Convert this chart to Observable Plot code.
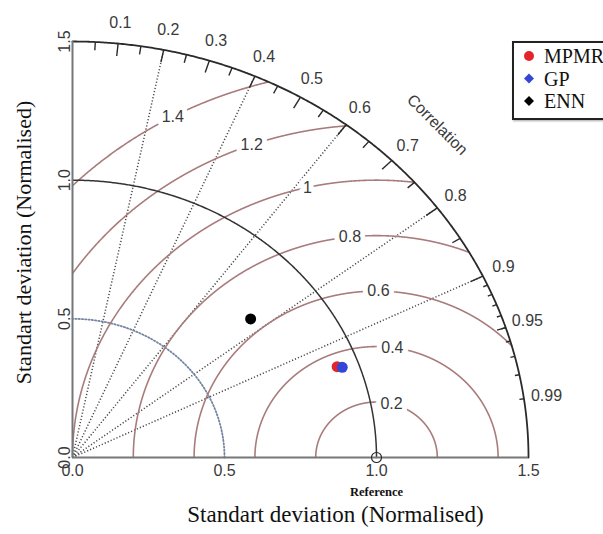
<!DOCTYPE html>
<html>
<head>
<meta charset="utf-8">
<script src="https://cdn.jsdelivr.net/npm/d3@7"></script>
<script src="https://cdn.jsdelivr.net/npm/@observablehq/plot@0.6"></script>
<style>
  html, body { margin: 0; padding: 0; background: #fff; overflow: hidden; }
  #wrap { position: relative; width: 603px; height: 534px; }
  #legend {
    position: absolute; left: 512px; top: 41px; width: 120px; height: 79px;
    box-sizing: border-box; border: 2px solid #222; background: #fff;
    box-shadow: 1px 1px 2px rgba(0,0,0,0.35);
  }
</style>
</head>
<body>
<div id="wrap"><div id="legend"></div></div>
<script>
// Model skill: normalised standard deviation and correlation with observations
const models = ["MPMR", "GP", "ENN"];
const stdDev = [0.930, 0.945, 0.770];
const correlation = [0.936, 0.939, 0.761];
const colors = ["#e3242b", "#3347d6", "#000000"];
const legendSymbols = ["circle", "diamond", "diamond"];

// Diagram furniture
const maxSd = 1.5;
const refSd = 1.0;
const sdTicks = [0, 0.5, 1.0, 1.5];
const sdDottedArcs = [0.5];
const rmsLevels = [0.2, 0.4, 0.6, 0.8, 1, 1.2, 1.4];
const corrLines = [0.2, 0.4, 0.6, 0.8, 0.9];
const corrLabels = [0.1, 0.2, 0.3, 0.4, 0.5, 0.6, 0.7, 0.8, 0.9, 0.95, 0.99];
const corrBigTicks = [0.1, 0.2, 0.3, 0.4, 0.5, 0.6, 0.7, 0.8, 0.9];
const corrMedTicks = [0.05, 0.15, 0.25, 0.35, 0.45, 0.55, 0.65, 0.75, 0.85, 0.95];
const corrSmallTicks = [0.91, 0.92, 0.93, 0.94, 0.95, 0.96, 0.97, 0.98, 0.99];

// polar helpers: radius r along the direction whose cosine is the correlation c
const px = (r, c) => r * c;
const py = (r, c) => r * Math.sqrt(Math.max(0, 1 - c * c));

function quarterArc(r, n = 400) {
  return d3.range(n + 1).map(k => {
    const t = (k / n) * Math.PI / 2;
    return {r, x: r * Math.cos(t), y: r * Math.sin(t)};
  });
}

// centred-RMS difference curves around the reference point, clipped to the quadrant
const rmsCurves = rmsLevels.flatMap(g =>
  d3.range(3001).map(k => {
    const t = (k / 3000) * Math.PI;
    return {g, x: refSd + g * Math.cos(t), y: g * Math.sin(t)};
  }).filter(p => p.x >= 0 && p.x * p.x + p.y * p.y <= maxSd * maxSd)
);
// label position on each curve: evenly spread sample indices along the half circle
const rmsLabels = rmsLevels.map((g, i) => {
  const idx = Math.trunc(45 + i * 25 / (rmsLevels.length - 1));
  const t = (idx - 1) * 0.03;
  return {g, x: refSd + g * Math.cos(t), y: g * Math.sin(t)};
});

const tickSegs = (vals, inner) => vals.map(c => ({
  x1: px(maxSd, c), y1: py(maxSd, c), x2: px(maxSd * inner, c), y2: py(maxSd * inner, c)
}));

const points = models.map((m, i) => ({
  model: m, sd: stdDev[i], corr: correlation[i], color: colors[i],
  x: px(stdDev[i], correlation[i]), y: py(stdDev[i], correlation[i])
}));

const sans = "Liberation Sans, Arial, sans-serif";
const serif = "Liberation Serif, Times New Roman, serif";
const ink = "#3a3a3a";
const axisTitle = "Standart deviation (Normalised)";

const chart = Plot.plot({
  width: 603,
  height: 534,
  marginLeft: 72,
  marginRight: 75,
  marginTop: 41,
  marginBottom: 77,
  x: {domain: [0, maxSd]},
  y: {domain: [0, maxSd]},
  color: {type: "identity"},
  style: {fontFamily: sans, color: ink, background: "#fff"},
  marks: [
    // radial correlation lines
    Plot.link(corrLines, {
      x1: 0, y1: 0, x2: c => px(maxSd, c), y2: c => py(maxSd, c),
      stroke: "#4a4a4a", strokeWidth: 1.5, strokeDasharray: "1.2,2"
    }),
    // dotted standard-deviation arc
    Plot.line(sdDottedArcs.flatMap(r => quarterArc(r)), {
      x: "x", y: "y", z: "r", stroke: "#7585a2", strokeWidth: 1.8, strokeDasharray: "1.3,2"
    }),
    // RMS difference curves
    Plot.line(rmsCurves, {x: "x", y: "y", z: "g", stroke: "#a87c7c", strokeWidth: 1.6}),
    // reference standard deviation arc
    Plot.line(quarterArc(refSd), {x: "x", y: "y", stroke: "#333", strokeWidth: 1.5}),
    // outer boundary
    Plot.line(quarterArc(maxSd), {x: "x", y: "y", stroke: "#2a2a2a", strokeWidth: 1.8}),
    // axes lines
    Plot.ruleY([0], {stroke: "#777", strokeWidth: 2}),
    Plot.ruleX([0], {stroke: "#777", strokeWidth: 2}),
    // correlation tick marks
    Plot.link(tickSegs(corrBigTicks, 0.97), {x1: "x1", y1: "y1", x2: "x2", y2: "y2", stroke: "#2a2a2a", strokeWidth: 1.4}),
    Plot.link(tickSegs(corrMedTicks, 0.98), {x1: "x1", y1: "y1", x2: "x2", y2: "y2", stroke: "#2a2a2a", strokeWidth: 1.4}),
    Plot.link(tickSegs(corrSmallTicks, 0.99), {x1: "x1", y1: "y1", x2: "x2", y2: "y2", stroke: "#2a2a2a", strokeWidth: 1.4}),
    // RMS curve labels on a white box
    Plot.text(rmsLabels, {
      x: "x", y: "y", text: d => String(d.g), fontSize: 16, fill: ink,
      stroke: "#fff", strokeWidth: 10, paintOrder: "stroke"
    }),
    // correlation labels
    Plot.text(corrLabels, {
      x: c => px(maxSd * 1.05, c), y: c => py(maxSd * 1.05, c),
      text: c => String(c), fontSize: 16, fill: ink
    }),
    Plot.text(["Correlation"], {
      x: maxSd * 0.8, y: maxSd * 0.8, text: d => d, rotate: 45, fontSize: 16, fill: ink
    }),
    // reference point
    Plot.dot([refSd], {x: d => d, y: 0, r: 5, stroke: "#222", strokeWidth: 1.1, fill: "none"}),
    Plot.text(["Reference"], {
      x: refSd, y: 0, text: d => d, dy: 34, fontFamily: serif, fontWeight: "bold", fontSize: 12.5, fill: "#111"
    }),
    // model points
    Plot.dot(points, {x: "x", y: "y", fill: "color", r: 5.5}),
    // axes
    Plot.axisX({ticks: sdTicks, tickSize: 0, tickPadding: 7, tickFormat: d3.format(".1f"), fontSize: 16, label: null}),
    Plot.axisY({ticks: sdTicks, tickSize: 0, tickPadding: 3, tickRotate: -90, tickFormat: d3.format(".1f"), fontSize: 16, label: null}),
    Plot.text([axisTitle], {
      frameAnchor: "bottom", text: d => d, dx: 35, dy: 64, textAnchor: "middle",
      fontFamily: serif, fontSize: 23, fill: "#111"
    }),
    Plot.text([axisTitle], {
      frameAnchor: "left", text: d => d, rotate: -90, dx: -49, dy: -7, textAnchor: "middle",
      fontFamily: serif, fontSize: 22, fill: "#111"
    })
  ]
});
document.getElementById("wrap").prepend(chart);

// legend
const leg = d3.select("#legend").append("svg").attr("width", 116).attr("height", 75);
const rowY = i => 13 + i * 22.5;
models.forEach((m, i) => {
  const g = leg.append("g").attr("transform", `translate(15,${rowY(i)})`);
  if (legendSymbols[i] === "circle") {
    g.append("circle").attr("r", 5).attr("fill", colors[i]);
  } else {
    g.append("path").attr("d", "M0,-5L5,0L0,5L-5,0Z").attr("fill", colors[i]);
  }
  leg.append("text").attr("x", 30).attr("y", rowY(i)).attr("dy", "0.35em")
    .attr("font-family", serif).attr("font-size", 20).attr("fill", "#111").text(m);
});
</script>
</body>
</html>
